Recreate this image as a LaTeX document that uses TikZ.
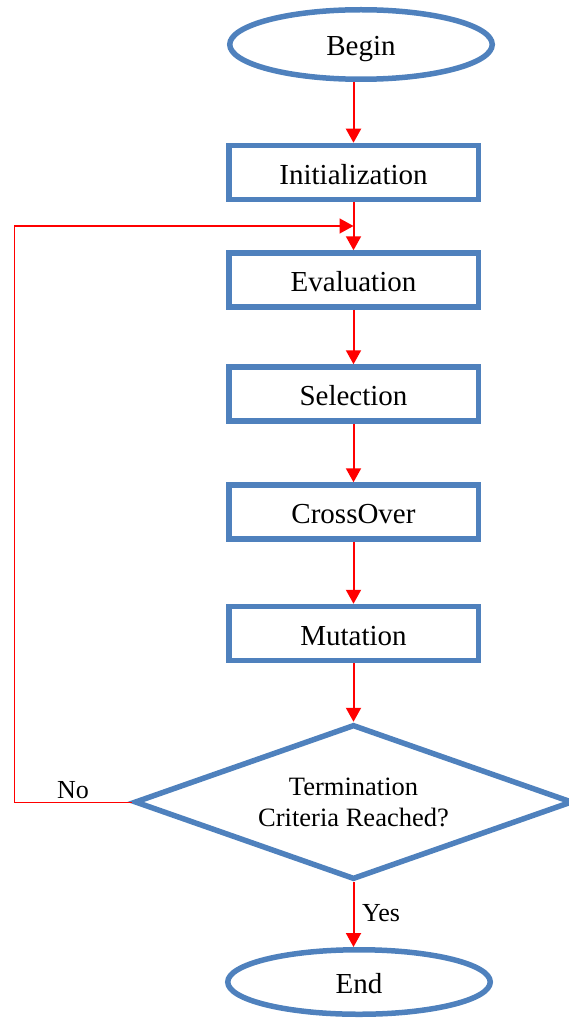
\documentclass[tikz,border=0pt]{standalone}
\usepackage{fontspec}
\setmainfont{Liberation Serif}
\usetikzlibrary{arrows.meta,shapes.geometric}
\definecolor{flowblue}{RGB}{79,129,189}
\definecolor{flowred}{RGB}{255,0,0}
\begin{document}
\begin{tikzpicture}[x=1pt,y=1pt,
  stepbox/.style={draw=flowblue, line width=5.5pt, rectangle,
    minimum width=249.5pt, minimum height=54pt, inner sep=0pt,
    text height=23.5pt, text depth=0pt,
    font=\fontsize{29}{34}\selectfont},
  terminal/.style={draw=flowblue, line width=5.5pt, ellipse,
    minimum width=262.5pt, inner sep=0pt,
    text height=23pt, text depth=0pt,
    font=\fontsize{29}{34}\selectfont},
  decision/.style={draw=flowblue, line width=5.5pt, diamond, aspect=2.8,
    minimum width=438pt, minimum height=155pt, inner sep=0pt,
    align=center, font=\fontsize{26.5}{31}\selectfont},
  flow/.style={draw=flowred, line width=2pt,
    -{Triangle[length=14pt,width=15pt]}},
  loopline/.style={draw=flowred, line width=1pt},
  lbl/.style={font=\fontsize{26}{30}\selectfont, inner sep=0pt}
]
\useasboundingbox (0,0) rectangle (568,-1019);

% main column of the flow chart
\node[terminal, minimum height=69.5pt] (begin) at (361,-44.5) {Begin};
\node[stepbox] (init)  at (353.5,-172.5) {Initialization};
\node[stepbox] (eval)  at (353.5,-280)   {Evaluation};
\node[stepbox] (sel)   at (353.5,-394)   {Selection};
\node[stepbox] (cross) at (353.5,-512)   {CrossOver};
\node[stepbox] (mut)   at (353.5,-633.5) {Mutation};
\node[decision] (dec)  at (353.5,-802)   {Termination\\Criteria Reached?};
\node[terminal, minimum height=64.5pt] (end) at (359,-982) {End};

% branch labels
\node[lbl] (nolbl) at (73,-790) {No};
\node[lbl, anchor=west] (yeslbl) at (362,-913) {Yes};

% forward arrows
\draw[flow] (init.north |- begin.south) -- (init.north);
\draw[flow] (init.south) -- (eval.north);
\draw[flow] (eval.south) -- (sel.north);
\draw[flow] (sel.south) -- (cross.north);
\draw[flow] (cross.south) -- (mut.north);
\draw[flow] (mut.south) -- (dec.north);
\draw[flow] (dec.south) -- (dec.south |- end.north);

% loop back to evaluation
\coordinate (looptop) at (14,-226);
\draw[loopline] (dec.west) -| (looptop);
\draw[flow, line width=1.5pt] (looptop) -- (eval.north |- looptop);
\end{tikzpicture}
\end{document}
